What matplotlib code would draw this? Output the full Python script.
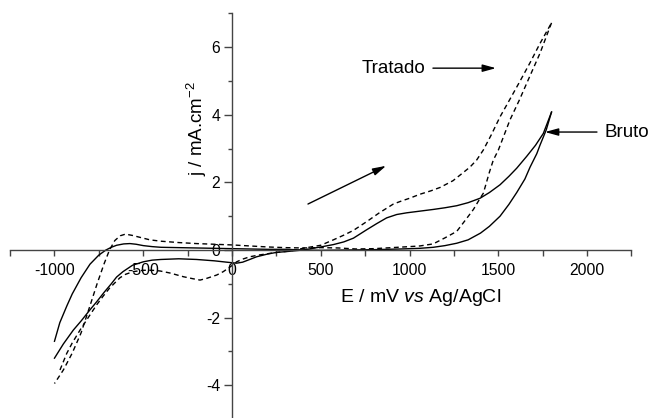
import matplotlib
matplotlib.use('Agg')
import matplotlib.pyplot as plt
from matplotlib.ticker import MultipleLocator

plt.rcParams['font.family'] = ['Liberation Sans', 'DejaVu Sans']
plt.rcParams['mathtext.fontset'] = 'custom'
plt.rcParams['mathtext.rm'] = 'Liberation Sans'
plt.rcParams['mathtext.it'] = 'Liberation Sans:italic'
plt.rcParams['mathtext.default'] = 'regular'

# ---- Bruto (solid) : forward scan (-1000 -> 1800)
bruto_fwd_E = [-1000, -950, -894, -850, -800, -762, -720, -680, -650, -614, -560, -500, -450, -400,
               -300, -200, -100, -30, 26, 60, 100, 139, 200, 252, 300, 400, 500, 571, 630, 684,
               759, 815, 871, 928, 984, 1059, 1134, 1200, 1266, 1330, 1397, 1450, 1510, 1560,
               1604, 1660, 1710, 1754, 1800]
bruto_fwd_j = [-3.2, -2.78, -2.37, -2.1, -1.77, -1.53, -1.25, -1.0, -0.8, -0.64, -0.45, -0.35, -0.3, -0.28,
               -0.26, -0.28, -0.32, -0.36, -0.39, -0.36, -0.28, -0.2, -0.12, -0.07, -0.05, 0.0, 0.09, 0.16, 0.24, 0.35,
               0.6, 0.78, 0.95, 1.05, 1.1, 1.15, 1.2, 1.25, 1.31, 1.4, 1.53, 1.7, 1.93, 2.18,
               2.42, 2.77, 3.1, 3.45, 4.08]
# ---- Bruto (solid) : reverse scan (1800 -> -1000)
bruto_rev_E = [1800, 1770, 1735, 1717, 1679, 1650, 1604, 1560, 1510, 1450, 1400, 1330, 1266, 1200,
               1134, 1059, 950, 800, 650, 500, 400, 300, 200, 100, 0, -100, -200, -300, -400, -450,
               -500, -540, -575, -610, -650, -680, -710, -750, -800, -850, -900, -930, -970, -1000]
bruto_rev_j = [4.08, 3.55, 3.1, 2.85, 2.45, 2.1, 1.7, 1.35, 1.0, 0.7, 0.5, 0.3, 0.2, 0.13,
               0.08, 0.05, 0.03, 0.01, 0.0, -0.01, 0.0, 0.02, 0.02, 0.03, 0.04, 0.05, 0.06, 0.07, 0.08, 0.1,
               0.13, 0.17, 0.19, 0.18, 0.14, 0.08, 0.0, -0.15, -0.42, -0.82, -1.3, -1.65, -2.15, -2.7]

# ---- Tratado (dashed) : forward scan
tratado_fwd_E = [-969, -931, -900, -856, -800, -762, -725, -690, -650, -631, -600, -557, -500, -450,
                 -406, -350, -274, -220, -180, -143, -86, -49, 6, 26, 60, 101, 150, 214, 270, 327,
                 400, 500, 571, 630, 684, 759, 830, 909, 960, 1000, 1059, 1120, 1172, 1245, 1300,
                 1340, 1378, 1416, 1460, 1510, 1570, 1623, 1680, 1735, 1800]
tratado_fwd_j = [-3.55, -3.06, -2.75, -2.37, -1.92, -1.62, -1.36, -1.13, -0.92, -0.82, -0.72, -0.64, -0.6, -0.6,
                 -0.62, -0.68, -0.79, -0.85, -0.89, -0.84, -0.74, -0.64, -0.44, -0.35, -0.27, -0.2, -0.15, -0.1, -0.06, -0.03,
                 0.05, 0.14, 0.3, 0.44, 0.58, 0.84, 1.1, 1.36, 1.46, 1.53, 1.65, 1.75, 1.85, 2.05, 2.28,
                 2.45, 2.66, 2.96, 3.4, 3.94, 4.5, 5.0, 5.55, 6.11, 6.72]
# ---- Tratado (dashed) : reverse scan
tratado_rev_E = [1800, 1735, 1660, 1620, 1566, 1500, 1472, 1450, 1416, 1400, 1360, 1320, 1266, 1200,
                 1133, 1059, 1000, 900, 800, 700, 600, 500, 400, 300, 200, 100, 0, -100, -200, -300,
                 -400, -462, -500, -560, -600, -630, -660, -690, -720, -760, -800, -850, -900, -950, -1000]
tratado_rev_j = [6.72, 5.82, 4.93, 4.45, 3.85, 2.95, 2.66, 2.3, 1.68, 1.55, 1.2, 0.92, 0.55, 0.36,
                 0.18, 0.12, 0.1, 0.07, 0.04, 0.03, 0.06, 0.07, 0.06, 0.07, 0.09, 0.12, 0.15, 0.17, 0.19, 0.22,
                 0.26, 0.3, 0.35, 0.43, 0.47, 0.42, 0.28, 0.0, -0.4, -1.0, -1.65, -2.45, -3.05, -3.55, -3.95]

x_ticks = [-1000, -500, 0, 500, 1000, 1500, 2000]
y_ticks = [-4, -2, 0, 2, 4, 6]

W, H = 649, 418
fig = plt.figure(figsize=(W / 100, H / 100), dpi=100)
ax = fig.add_axes([10.1 / W, -1.0 / H, 621.3 / W, 405.6 / H])
ax.patch.set_alpha(0)

line_kw = dict(color='black', lw=1.0)
dash_kw = dict(color='black', lw=1.0, dashes=(3.5, 2.5))
ax.plot(bruto_fwd_E, bruto_fwd_j, **line_kw)
ax.plot(bruto_rev_E, bruto_rev_j, **line_kw)
ax.plot(tratado_fwd_E, tratado_fwd_j, **dash_kw)
ax.plot(tratado_rev_E, tratado_rev_j, **dash_kw)

ax.set_xlim(-1250, 2250)
ax.set_ylim(-5, 7)

for s in ['top', 'right']:
    ax.spines[s].set_visible(False)
ax.spines['left'].set_position(('data', 0))
ax.spines['bottom'].set_position(('data', 0))
for s in ['left', 'bottom']:
    ax.spines[s].set_color('#444444')
    ax.spines[s].set_linewidth(1.0)

ax.set_xticks(x_ticks)
ax.set_xticklabels([str(v) for v in x_ticks])
ax.set_yticks(y_ticks)
ax.set_yticklabels([str(v) for v in y_ticks])
ax.xaxis.set_minor_locator(MultipleLocator(250))
ax.yaxis.set_minor_locator(MultipleLocator(1))
ax.tick_params(axis='x', which='major', direction='out', length=4.5, width=1.0, color='#444444',
               labelsize=11.3, pad=5)
ax.tick_params(axis='x', which='minor', direction='out', length=4, width=1.0, color='#444444')
ax.tick_params(axis='y', which='major', direction='out', length=5.5, width=1.0, color='#444444',
               labelsize=11.3, pad=3)
ax.tick_params(axis='y', which='minor', direction='out', length=3, width=1.0, color='#444444')

fig.text(421 / W, 1 - 298 / H, 'E / mV $\\it{vs}$ Ag/AgCl', ha='center', va='center', fontsize=14)
fig.text(197 / W, 1 - 128 / H, 'j / mA.cm$^{-2}$', ha='center', va='center', fontsize=13.5, rotation=90)

arrow = dict(arrowstyle='-|>,head_length=0.8,head_width=0.22', color='black', lw=1.0,
             shrinkA=0, shrinkB=0)
ax.annotate('', xy=(1487, 5.38), xytext=(1132, 5.38), arrowprops=arrow)
ax.text(1091, 5.38, 'Tratado', ha='right', va='center', fontsize=13.5)
ax.annotate('', xy=(1763, 3.49), xytext=(2056, 3.49), arrowprops=arrow)
ax.text(2096, 3.49, 'Bruto', ha='left', va='center', fontsize=13.5)
ax.annotate('', xy=(868, 2.49), xytext=(428, 1.36), arrowprops=arrow)

fig.savefig('out.png', dpi=100)
